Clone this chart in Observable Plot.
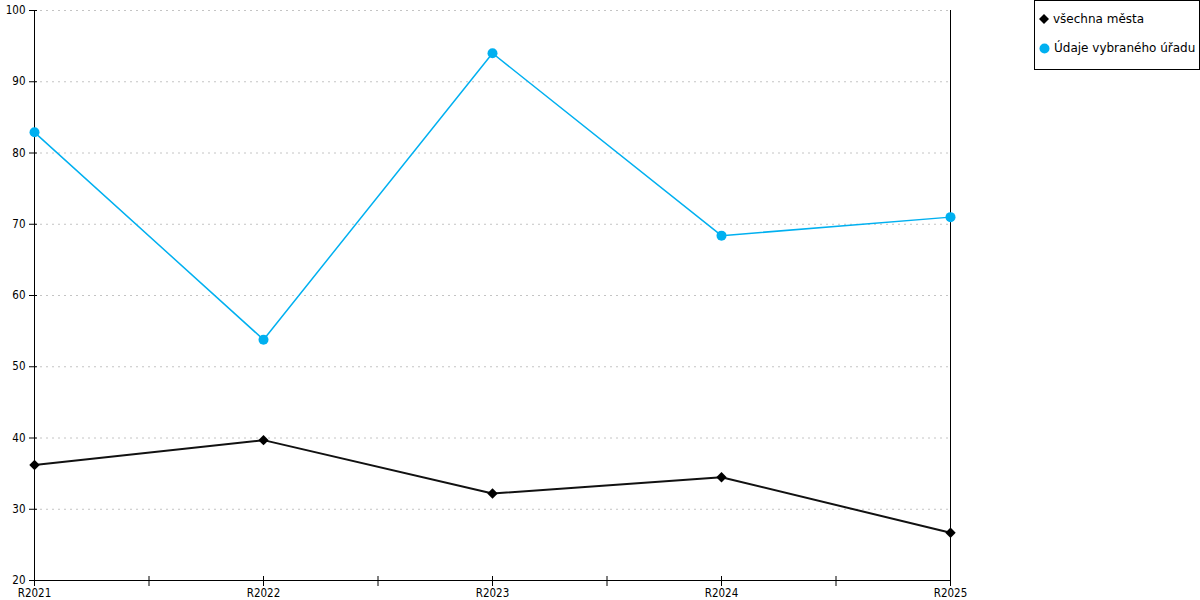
<!DOCTYPE html>
<html>
<head>
<meta charset="utf-8">
<script src="https://cdn.jsdelivr.net/npm/d3@7"></script>
<script src="https://cdn.jsdelivr.net/npm/@observablehq/plot@0.6"></script>
<style>
  body { margin: 0; background: #fff; }
  #wrap { position: relative; width: 1200px; height: 600px; font-family: "DejaVu Sans", sans-serif; }
  #legend { position: absolute; left: 1034px; top: 0px; width: 164px; height: 68px; border: 1px solid #000; background: #fff; font-size: 12px; color: #000; }
  .item { position: absolute; left: 4px; display: flex; align-items: center; white-space: nowrap; }
  .item svg { margin-right: 4px; }
</style>
</head>
<body>
<div id="wrap">
  <div id="chart"></div>
  <div id="legend"></div>
</div>
<script>
const categories = ["R2021", "R2022", "R2023", "R2024", "R2025"];
const seriesNames = ["všechna města", "Údaje vybraného úřadu"];
const allCities = [36.2, 39.7, 32.2, 34.5, 26.7];
const selectedOffice = [82.9, 53.8, 94.0, 68.4, 71.0];
const yTicks = [20, 30, 40, 50, 60, 70, 80, 90, 100];
const colors = ["#111111", "#00b0f0"];

const idx = categories.map((c, i) => i);
const rowsA = categories.map((c, i) => ({i, v: allCities[i]}));
const rowsB = categories.map((c, i) => ({i, v: selectedOffice[i]}));
const xTickPos = d3.range(0, categories.length - 0.5, 0.5);

const chart = Plot.plot({
  width: 1200,
  height: 600,
  marginLeft: 34,
  marginRight: 250,
  marginTop: 10,
  marginBottom: 20,
  style: {fontFamily: "'DejaVu Sans Condensed', 'DejaVu Sans', sans-serif", fontSize: "11.5px", color: "#000", background: "#fff"},
  x: {type: "linear", domain: [0, categories.length - 1]},
  y: {domain: [20, 100]},
  marks: [
    Plot.gridY(yTicks.slice(1), {stroke: "#c4c4c4", strokeOpacity: 1, strokeDasharray: "2,4"}),
    Plot.axisY({ticks: yTicks, tickSize: 0, tickPadding: 9, label: null, fill: "#000"}),
    Plot.axisX({ticks: idx, tickFormat: i => categories[i], tickSize: 0, tickPadding: 8, label: null, fill: "#000"}),
    Plot.ruleY(yTicks, {y: d => d, x1: 0, x2: 0, insetLeft: -5, insetRight: -3, stroke: "#000"}),
    Plot.ruleX(xTickPos, {x: d => d, y1: 20, y2: 20, insetTop: -4, insetBottom: -6, stroke: "#000"}),
    Plot.ruleX([0, categories.length - 1], {stroke: "#000"}),
    Plot.ruleY([20], {stroke: "#000"}),
    Plot.line(rowsB, {x: "i", y: "v", stroke: colors[1], strokeWidth: 1.5}),
    Plot.line(rowsA, {x: "i", y: "v", stroke: colors[0], strokeWidth: 2}),
    Plot.dot(rowsB, {x: "i", y: "v", fill: colors[1], r: 5, symbol: "circle"}),
    Plot.dot(rowsA, {x: "i", y: "v", fill: "#000", r: 4.7, symbol: "diamond2"})
  ]
});
document.getElementById("chart").appendChild(chart);

const legend = document.getElementById("legend");
const icons = [
  `<svg width="10" height="10" viewBox="-5 -5 10 10"><path d="M0,-5L5,0L0,5L-5,0Z" fill="#000"/></svg>`,
  `<svg width="11" height="11" viewBox="-5.5 -5.5 11 11"><circle r="5" fill="${colors[1]}"/></svg>`
];
seriesNames.forEach((name, k) => {
  const d = document.createElement("div");
  d.className = "item";
  d.style.top = (k === 0 ? 11 : 40) + "px";
  d.innerHTML = icons[k] + `<span>${name}</span>`;
  legend.appendChild(d);
});
</script>
</body>
</html>
